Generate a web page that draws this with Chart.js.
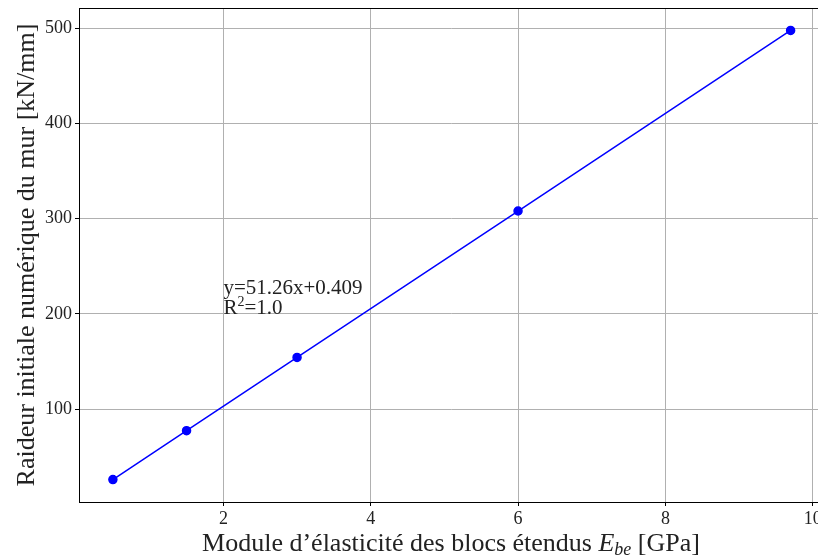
<!DOCTYPE html>
<html>
<head>
<meta charset="utf-8">
<script src="https://cdn.jsdelivr.net/npm/chart.js@4.4.1/dist/chart.umd.min.js"></script>
<style>
    html, body { margin: 0; padding: 0; background: #fff; overflow: hidden; }
    #wrap { width: 830px; height: 558px; }
</style>
</head>
<body>
<div id="wrap"><canvas id="chart"></canvas></div>
<script>
// Données
const moduleGPa = [0.5, 1.5, 3, 6, 9.7];
const raideur = [26.0, 77.3, 154.2, 308.0, 497.6];
const xTicks = [2, 4, 6, 8, 10];
const yTicks = [100, 200, 300, 400, 500];

const SERIF = '"Liberation Serif", "DejaVu Serif", serif';

// Cadre, titres d'axes et annotation de la régression
const overlayPlugin = {
    id: 'overlay',
    afterDraw(chart) {
        const { ctx, chartArea: a, scales } = chart;
        ctx.save();

        ctx.strokeStyle = '#000';
        ctx.lineWidth = 1;
        ctx.strokeRect(a.left + 0.5, a.top + 0.5, a.right - a.left, a.bottom - a.top);

        ctx.fillStyle = '#222';
        ctx.textBaseline = 'alphabetic';

        // annotation
        const ax = scales.x.getPixelForValue(2);
        const ay = scales.y.getPixelForValue(200);
        ctx.font = '21px ' + SERIF;
        ctx.textAlign = 'left';
        ctx.fillText('y=51.26x+0.409', ax, ay - 20);
        ctx.fillText('R', ax, ay);
        let w = ctx.measureText('R').width;
        ctx.font = '14px ' + SERIF;
        ctx.fillText('2', ax + w, ay - 8);
        w += ctx.measureText('2').width;
        ctx.font = '21px ' + SERIF;
        ctx.fillText('=1.0', ax + w, ay);

        // titre axe x
        const parts = [
            { t: 'Module d\u2019\u00e9lasticit\u00e9 des blocs \u00e9tendus ', f: '26px ' + SERIF, dy: 0 },
            { t: 'E', f: 'italic 26px ' + SERIF, dy: 0 },
            { t: 'be', f: 'italic 18px ' + SERIF, dy: 4 },
            { t: ' [GPa]', f: '26px ' + SERIF, dy: 0 }
        ];
        let total = 0;
        parts.forEach(p => { ctx.font = p.f; p.w = ctx.measureText(p.t).width; total += p.w; });
        let x = 451 - total / 2;
        parts.forEach(p => {
            ctx.font = p.f;
            ctx.fillText(p.t, x, 551 + p.dy);
            x += p.w;
        });

        // titre axe y
        ctx.translate(34, 255);
        ctx.rotate(-Math.PI / 2);
        ctx.font = '26px ' + SERIF;
        ctx.textAlign = 'center';
        ctx.fillText('Raideur initiale num\u00e9rique du mur [kN/mm]', 0, 0);

        ctx.restore();
    }
};

new Chart(document.getElementById('chart'), {
    type: 'scatter',
    data: {
        datasets: [{
            data: moduleGPa.map((v, i) => ({ x: v, y: raideur[i] })),
            showLine: true,
            borderColor: '#0000ff',
            backgroundColor: '#0000ff',
            borderWidth: 1.5,
            pointRadius: 4,
            pointHoverRadius: 4
        }]
    },
    options: {
        responsive: true,
        maintainAspectRatio: false,
        animation: false,
        layout: { padding: { left: 0, top: 8, right: 5, bottom: 0 } },
        plugins: { legend: { display: false }, tooltip: { enabled: false } },
        scales: {
            x: {
                type: 'linear',
                min: 0.04,
                max: 10.16,
                afterBuildTicks: s => { s.ticks = xTicks.map(v => ({ value: v })); },
                afterFit: s => { s.height = 56; s.paddingLeft = 0; s.paddingRight = 0; },
                grid: { color: '#b0b0b0', lineWidth: 1, tickColor: '#000', tickLength: 4 },
                border: { display: false },
                ticks: { color: '#222', font: { family: SERIF, size: 18 }, padding: 2 }
            },
            y: {
                type: 'linear',
                min: 2.4,
                max: 521.2,
                afterBuildTicks: s => { s.ticks = yTicks.map(v => ({ value: v })); },
                afterFit: s => { s.width = 79; s.paddingTop = 0; s.paddingBottom = 0; },
                grid: { color: '#b0b0b0', lineWidth: 1, tickColor: '#000', tickLength: 4 },
                border: { display: false },
                ticks: { color: '#222', font: { family: SERIF, size: 18 }, padding: 3 }
            }
        }
    },
    plugins: [overlayPlugin]
});
</script>
</body>
</html>
